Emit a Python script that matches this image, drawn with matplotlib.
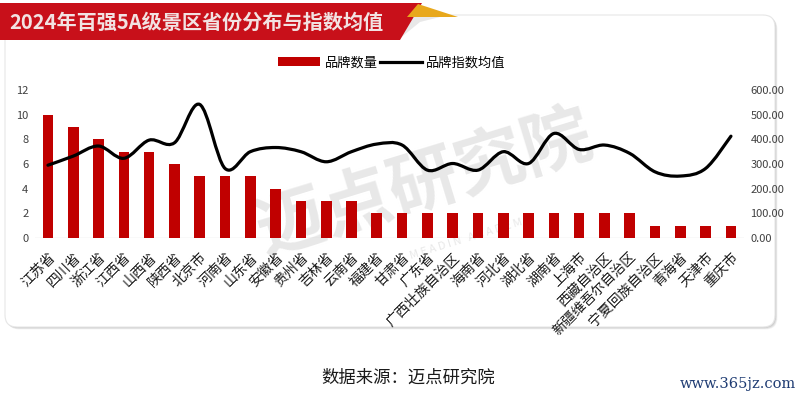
import numpy as np
import matplotlib.pyplot as plt
from matplotlib.patches import FancyBboxPatch, Polygon
from matplotlib.path import Path
from matplotlib.patches import PathPatch
from matplotlib.lines import Line2D
from matplotlib.patches import Patch

plt.rcParams['font.family'] = ['Noto Sans CJK SC', 'DejaVu Sans']

provinces = ['江苏省', '四川省', '浙江省', '江西省', '山西省', '陕西省', '北京市', '河南省',
             '山东省', '安徽省', '贵州省', '吉林省', '云南省', '福建省', '甘肃省', '广东省',
             '广西壮族自治区', '海南省', '河北省', '湖北省', '湖南省', '上海市', '西藏自治区',
             '新疆维吾尔自治区', '宁夏回族自治区', '青海省', '天津市', '重庆市']
brand_count = [10, 9, 8, 7, 7, 6, 5, 5, 5, 4, 3, 3, 3, 2, 2, 2, 2, 2, 2, 2, 2, 2, 2, 2, 1, 1, 1, 1]
index_mean = [295, 332, 373, 323, 397, 386, 542, 282, 350, 367, 350, 309, 350, 381, 377, 275,
              302, 275, 350, 302, 424, 359, 377, 343, 268, 251, 282, 413]

red = '#C00000'

fig = plt.figure(figsize=(8, 3.99), dpi=100)

# background layer in pixel coordinates
bg = fig.add_axes([0, 0, 1, 1], zorder=-1)
bg.set_xlim(0, 800)
bg.set_ylim(399, 0)
bg.axis('off')

# card shadow + card
for i, a in enumerate([0.10, 0.10, 0.12, 0.15]):
    d = 6 - i * 1.3
    bg.add_patch(FancyBboxPatch((5 + d * 0.4, 15 + d * 0.4), 770, 312,
                                boxstyle='round,pad=0,rounding_size=12',
                                fc='#808080', ec='none', alpha=a))
bg.add_patch(FancyBboxPatch((5, 15), 770, 312, boxstyle='round,pad=0,rounding_size=12',
                            fc='white', ec='#e6e6e6', lw=0.8))

# title banner
bg.add_patch(Polygon([(400, 17), (440, 17), (420, 22), (398, 40)], closed=True,
                     fc='#d9d9d9', ec='none', alpha=0.6))
bg.add_patch(Polygon([(0, 3), (422, 3), (400, 40), (0, 40)], closed=True, fc='#C8101A', ec='none'))
bg.add_patch(Polygon([(418, 4), (458, 17), (407, 17)], closed=True, fc='#E8A81C', ec='none'))
bg.text(9, 22, '2024年百强5A级景区省份分布与指数均值', fontsize=14.5, fontweight='bold',
        color='#F2E2E2', ha='left', va='center')

# watermark
bg.text(425, 185, '迈点研究院', fontsize=50, fontweight='bold', color='#e8e8e8',
        rotation=17, ha='center', va='center', zorder=1)
bg.text(470, 238, 'M E A D I N   A C A D E M Y', fontsize=8, color='#e8e8e8',
        rotation=17, ha='center', va='center', zorder=1)

# footer texts
bg.text(408, 378, '数据来源：迈点研究院', fontsize=12.5, color='#1a1a1a', ha='center', va='center')
bg.text(738, 384, 'www.365jz.com', fontsize=10.5, color='#1F3C73', ha='center', va='center',
        family='DejaVu Serif')

# main axes
ax = fig.add_axes([0.0441, 0.404, 0.8854, 0.370])
ax.patch.set_alpha(0)
x = np.arange(len(provinces))
ax.bar(x, brand_count, width=0.42, color=red, zorder=2)
ax.set_xlim(-0.5, len(provinces) - 0.5)
ax.set_ylim(0, 12)
ax.set_yticks(range(0, 13, 2))
ax.set_xticks(x)
ax.set_xticklabels(provinces, rotation=45, ha='right', rotation_mode='anchor', fontsize=10,
                   color='#1a1a1a')
ax.tick_params(axis='x', length=0, pad=9)
ax.tick_params(axis='y', length=0, pad=5, labelsize=8, labelcolor='#404040')
for s in ax.spines.values():
    s.set_visible(False)
ax.axhline(0, color='#d0d0d0', lw=0.9, zorder=1)

ax2 = ax.twinx()
ax2.set_ylim(0, 600)
ax2.set_yticks(range(0, 601, 100))
ax2.set_yticklabels(['%.2f' % v for v in range(0, 601, 100)])
ax2.tick_params(axis='y', length=0, pad=5, labelsize=8, labelcolor='#404040')
for s in ax2.spines.values():
    s.set_visible(False)

# smoothed line (Excel style bezier through the data points)
pts = np.column_stack([x, index_mean]).astype(float)
verts = [tuple(pts[0])]
codes = [Path.MOVETO]
n = len(pts)
for i in range(n - 1):
    p0 = pts[i - 1] if i > 0 else pts[i]
    p1, p2 = pts[i], pts[i + 1]
    p3 = pts[i + 2] if i + 2 < n else pts[i + 1]
    c1 = p1 + (p2 - p0) / 6
    c2 = p2 - (p3 - p1) / 6
    verts += [tuple(c1), tuple(c2), tuple(p2)]
    codes += [Path.CURVE4] * 3
ax2.add_patch(PathPatch(Path(verts, codes), fc='none', ec='black', lw=2.3, zorder=3,
                        capstyle='round'))

handles = [Patch(fc=red, ec='none'), Line2D([], [], color='black', lw=2.3)]
fig.legend(handles, ['品牌数量', '品牌指数均值'], loc='center', bbox_to_anchor=(0.49, 0.843),
           ncol=2, frameon=False, fontsize=9.5, handlelength=3.2, handleheight=0.6,
           columnspacing=0.2, handletextpad=0.3)

fig.savefig('out.png', dpi=100)
